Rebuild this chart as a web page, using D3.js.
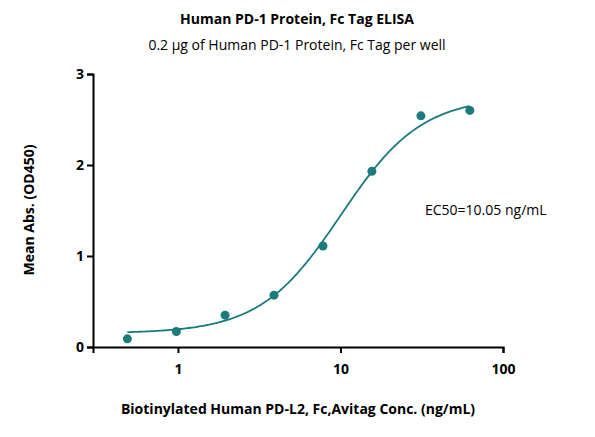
<!DOCTYPE html>
<html><head><meta charset="utf-8">
<script src="https://cdn.jsdelivr.net/npm/d3@7"></script>
<style>body{margin:0;background:#fff;font-family:"Open Sans",Arial,sans-serif}</style>
</head><body><div id="chart"></div>
<script>
// measured points
const conc = [0.488, 0.977, 1.95, 3.9, 7.8, 15.6, 31.25, 62.5];
const absorb = [0.09, 0.17, 0.35, 0.57, 1.11, 1.93, 2.54, 2.60];
const xTicks = [1, 10, 100];
const yTicks = [0, 1, 2, 3];
// 4PL fit parameters
const fit = {bottom: 0.15, top: 2.75, ec50: 10.05, hill: 1.75};

const width = 595, height = 437;
const svg = d3.select('#chart').append('svg').attr('width', width).attr('height', height);
const color = '#1b7b7d';

const x = d3.scaleLog().domain([0.3, 100]).range([93, 503]);
const y = d3.scaleLinear().domain([0, 3]).range([347, 74]);

const xAxis = svg.append('g').attr('transform', 'translate(0,347)')
    .call(d3.axisBottom(x).tickValues(xTicks).tickFormat(d3.format('d')).tickSize(6));
const yAxis = svg.append('g').attr('transform', 'translate(93,0)')
    .call(d3.axisLeft(y).tickValues(yTicks).tickFormat(d3.format('d')).tickSize(6));
[xAxis, yAxis].forEach(a => {
    a.select('.domain').attr('stroke', '#000').attr('stroke-width', 2);
    a.selectAll('.tick line').attr('stroke', '#000').attr('stroke-width', 2);
    a.selectAll('text').attr('font-size', 14).attr('font-weight', 'bold').attr('font-family', '"Open Sans",Arial,sans-serif');
});
xAxis.selectAll('text').attr('dy', '1.3em');

const f = c => fit.bottom + (fit.top - fit.bottom) / (1 + Math.pow(fit.ec50 / c, fit.hill));
const curve = d3.range(0, 201).map(i => Math.pow(10, Math.log10(0.488) + i / 200 * (Math.log10(62.5) - Math.log10(0.488))));
svg.append('path').datum(curve)
    .attr('d', d3.line().x(d => x(d)).y(d => y(f(d))))
    .attr('fill', 'none').attr('stroke', color).attr('stroke-width', 1.8);

svg.append('g').selectAll('circle').data(conc).join('circle')
    .attr('cx', d => x(d)).attr('cy', (d, i) => y(absorb[i])).attr('r', 4.5).attr('fill', color);

svg.append('text').attr('x', 297).attr('y', 24).attr('text-anchor', 'middle')
    .attr('font-size', 14).attr('font-weight', 'bold').text('Human PD-1 Protein, Fc Tag ELISA');
svg.append('text').attr('x', 297).attr('y', 50).attr('text-anchor', 'middle')
    .attr('font-size', 14).text('0.2 μg of Human PD-1 Protein, Fc Tag per well');
svg.append('text').attr('x', 425).attr('y', 215).attr('font-size', 14).text('EC50=10.05 ng/mL');
svg.append('text').attr('x', 298).attr('y', 414).attr('text-anchor', 'middle')
    .attr('font-size', 14).attr('font-weight', 'bold').text('Biotinylated Human PD-L2, Fc,Avitag Conc. (ng/mL)');
svg.append('text').attr('transform', 'translate(34,210) rotate(-90)').attr('text-anchor', 'middle')
    .attr('font-size', 14).attr('font-weight', 'bold').text('Mean Abs. (OD450)');
</script></body></html>
